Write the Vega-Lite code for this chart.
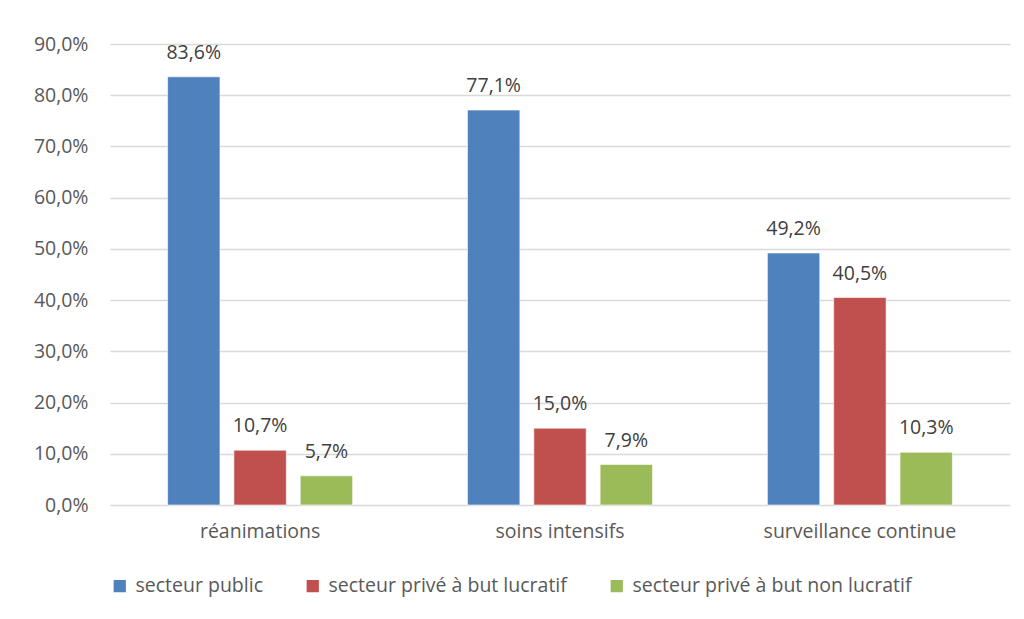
{
  "$schema": "https://vega.github.io/schema/vega-lite/v6.json",
  "width": 900,
  "height": 461,
  "autosize": {"type": "none"},
  "padding": {"left": 110, "top": 44, "right": 14, "bottom": 114},
  "background": "white",
  "config": {
    "font": "Open Sans",
    "view": {"stroke": null},
    "axis": {"labelFont": "Open Sans", "labelColor": "#595959", "labelFontSize": 19.5, "labelLimit": 400},
    "legend": {"labelFont": "Open Sans", "labelColor": "#595959", "labelFontSize": 19.5}
  },
  "data": {
    "values": [
      {"categorie": "réanimations", "secteur": "secteur public", "valeur": 0.836},
      {"categorie": "réanimations", "secteur": "secteur privé à but lucratif", "valeur": 0.107},
      {"categorie": "réanimations", "secteur": "secteur privé à but non lucratif", "valeur": 0.057},
      {"categorie": "soins intensifs", "secteur": "secteur public", "valeur": 0.771},
      {"categorie": "soins intensifs", "secteur": "secteur privé à but lucratif", "valeur": 0.150},
      {"categorie": "soins intensifs", "secteur": "secteur privé à but non lucratif", "valeur": 0.079},
      {"categorie": "surveillance continue", "secteur": "secteur public", "valeur": 0.492},
      {"categorie": "surveillance continue", "secteur": "secteur privé à but lucratif", "valeur": 0.405},
      {"categorie": "surveillance continue", "secteur": "secteur privé à but non lucratif", "valeur": 0.103}
    ]
  },
  "transform": [
    {"calculate": "replace(format(datum.valeur, '.1%'), '.', ',')", "as": "etiquette"}
  ],
  "encoding": {
    "x": {
      "field": "categorie", "type": "nominal", "sort": null,
      "scale": {"paddingInner": 0.383, "paddingOuter": 0.192},
      "axis": {"title": null, "labelAngle": 0, "ticks": false, "domain": false, "labelPadding": 17, "labelLimit": 400}
    },
    "xOffset": {
      "field": "secteur", "type": "nominal",
      "sort": ["secteur public", "secteur privé à but lucratif", "secteur privé à but non lucratif"],
      "scale": {"paddingInner": 0.21, "paddingOuter": 0}
    },
    "y": {
      "field": "valeur", "type": "quantitative",
      "scale": {"domain": [0, 0.9], "nice": false},
      "axis": {
        "title": null, "values": [0, 0.1, 0.2, 0.3, 0.4, 0.5, 0.6, 0.7, 0.8, 0.9],
        "labelExpr": "replace(format(datum.value, '.1%'), '.', ',')",
        "ticks": false, "domain": false, "labelPadding": 22,
        "gridColor": "#d9d9d9", "gridWidth": 1.5
      }
    }
  },
  "layer": [
    {
      "mark": {"type": "bar", "stroke": "white", "strokeWidth": 0.6},
      "encoding": {
        "color": {
          "field": "secteur", "type": "nominal",
          "sort": ["secteur public", "secteur privé à but lucratif", "secteur privé à but non lucratif"],
          "scale": {
            "domain": ["secteur public", "secteur privé à but lucratif", "secteur privé à but non lucratif"],
            "range": ["#4f81bd", "#c0504d", "#9bbb59"]
          },
          "legend": {
            "title": null, "orient": "none", "direction": "horizontal",
            "legendX": 0, "legendY": 532,
            "symbolType": "square", "symbolSize": 150, "symbolStrokeWidth": 0,
            "symbolOpacity": 1, "columnPadding": 40, "labelOffset": 6, "labelLimit": 400
          }
        }
      }
    },
    {
      "mark": {"type": "text", "dy": -24, "fontSize": 19.5, "color": "#404040", "font": "Open Sans"},
      "encoding": {
        "text": {"field": "etiquette"}
      }
    }
  ]
}
